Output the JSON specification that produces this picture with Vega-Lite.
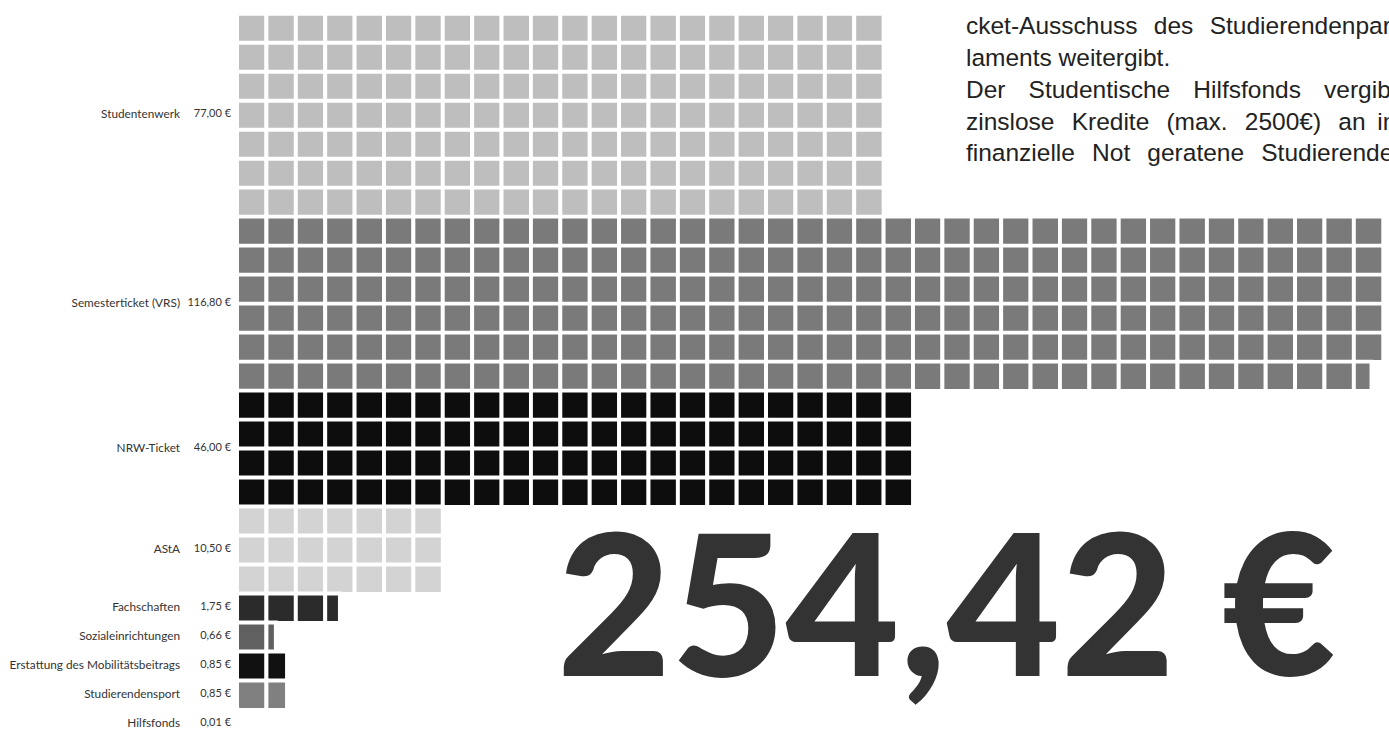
{
"$schema": "https://vega.github.io/schema/vega-lite/v6.json",
"width": 1389, "height": 733, "padding": 0, "autosize": {"type": "none"},
"config": {"view": {"stroke": null}, "axis": {"disable": true}, "locale": {"number": {"decimal": ",", "thousands": ".", "grouping": [3], "currency": ["", " €"]}}},
"data": {"values": [
{"k":"Studentenwerk","r":0,"v":0.5},{"k":"Studentenwerk","r":0,"v":0.5},{"k":"Studentenwerk","r":0,"v":0.5},{"k":"Studentenwerk","r":0,"v":0.5},{"k":"Studentenwerk","r":0,"v":0.5},{"k":"Studentenwerk","r":0,"v":0.5},{"k":"Studentenwerk","r":0,"v":0.5},{"k":"Studentenwerk","r":0,"v":0.5},{"k":"Studentenwerk","r":0,"v":0.5},{"k":"Studentenwerk","r":0,"v":0.5},{"k":"Studentenwerk","r":0,"v":0.5},
{"k":"Studentenwerk","r":0,"v":0.5},{"k":"Studentenwerk","r":0,"v":0.5},{"k":"Studentenwerk","r":0,"v":0.5},{"k":"Studentenwerk","r":0,"v":0.5},{"k":"Studentenwerk","r":0,"v":0.5},{"k":"Studentenwerk","r":0,"v":0.5},{"k":"Studentenwerk","r":0,"v":0.5},{"k":"Studentenwerk","r":0,"v":0.5},{"k":"Studentenwerk","r":0,"v":0.5},{"k":"Studentenwerk","r":0,"v":0.5},{"k":"Studentenwerk","r":0,"v":0.5},
{"k":"Studentenwerk","r":1,"v":0.5},{"k":"Studentenwerk","r":1,"v":0.5},{"k":"Studentenwerk","r":1,"v":0.5},{"k":"Studentenwerk","r":1,"v":0.5},{"k":"Studentenwerk","r":1,"v":0.5},{"k":"Studentenwerk","r":1,"v":0.5},{"k":"Studentenwerk","r":1,"v":0.5},{"k":"Studentenwerk","r":1,"v":0.5},{"k":"Studentenwerk","r":1,"v":0.5},{"k":"Studentenwerk","r":1,"v":0.5},{"k":"Studentenwerk","r":1,"v":0.5},
{"k":"Studentenwerk","r":1,"v":0.5},{"k":"Studentenwerk","r":1,"v":0.5},{"k":"Studentenwerk","r":1,"v":0.5},{"k":"Studentenwerk","r":1,"v":0.5},{"k":"Studentenwerk","r":1,"v":0.5},{"k":"Studentenwerk","r":1,"v":0.5},{"k":"Studentenwerk","r":1,"v":0.5},{"k":"Studentenwerk","r":1,"v":0.5},{"k":"Studentenwerk","r":1,"v":0.5},{"k":"Studentenwerk","r":1,"v":0.5},{"k":"Studentenwerk","r":1,"v":0.5},
{"k":"Studentenwerk","r":2,"v":0.5},{"k":"Studentenwerk","r":2,"v":0.5},{"k":"Studentenwerk","r":2,"v":0.5},{"k":"Studentenwerk","r":2,"v":0.5},{"k":"Studentenwerk","r":2,"v":0.5},{"k":"Studentenwerk","r":2,"v":0.5},{"k":"Studentenwerk","r":2,"v":0.5},{"k":"Studentenwerk","r":2,"v":0.5},{"k":"Studentenwerk","r":2,"v":0.5},{"k":"Studentenwerk","r":2,"v":0.5},{"k":"Studentenwerk","r":2,"v":0.5},
{"k":"Studentenwerk","r":2,"v":0.5},{"k":"Studentenwerk","r":2,"v":0.5},{"k":"Studentenwerk","r":2,"v":0.5},{"k":"Studentenwerk","r":2,"v":0.5},{"k":"Studentenwerk","r":2,"v":0.5},{"k":"Studentenwerk","r":2,"v":0.5},{"k":"Studentenwerk","r":2,"v":0.5},{"k":"Studentenwerk","r":2,"v":0.5},{"k":"Studentenwerk","r":2,"v":0.5},{"k":"Studentenwerk","r":2,"v":0.5},{"k":"Studentenwerk","r":2,"v":0.5},
{"k":"Studentenwerk","r":3,"v":0.5},{"k":"Studentenwerk","r":3,"v":0.5},{"k":"Studentenwerk","r":3,"v":0.5},{"k":"Studentenwerk","r":3,"v":0.5},{"k":"Studentenwerk","r":3,"v":0.5},{"k":"Studentenwerk","r":3,"v":0.5},{"k":"Studentenwerk","r":3,"v":0.5},{"k":"Studentenwerk","r":3,"v":0.5},{"k":"Studentenwerk","r":3,"v":0.5},{"k":"Studentenwerk","r":3,"v":0.5},{"k":"Studentenwerk","r":3,"v":0.5},
{"k":"Studentenwerk","r":3,"v":0.5},{"k":"Studentenwerk","r":3,"v":0.5},{"k":"Studentenwerk","r":3,"v":0.5},{"k":"Studentenwerk","r":3,"v":0.5},{"k":"Studentenwerk","r":3,"v":0.5},{"k":"Studentenwerk","r":3,"v":0.5},{"k":"Studentenwerk","r":3,"v":0.5},{"k":"Studentenwerk","r":3,"v":0.5},{"k":"Studentenwerk","r":3,"v":0.5},{"k":"Studentenwerk","r":3,"v":0.5},{"k":"Studentenwerk","r":3,"v":0.5},
{"k":"Studentenwerk","r":4,"v":0.5},{"k":"Studentenwerk","r":4,"v":0.5},{"k":"Studentenwerk","r":4,"v":0.5},{"k":"Studentenwerk","r":4,"v":0.5},{"k":"Studentenwerk","r":4,"v":0.5},{"k":"Studentenwerk","r":4,"v":0.5},{"k":"Studentenwerk","r":4,"v":0.5},{"k":"Studentenwerk","r":4,"v":0.5},{"k":"Studentenwerk","r":4,"v":0.5},{"k":"Studentenwerk","r":4,"v":0.5},{"k":"Studentenwerk","r":4,"v":0.5},
{"k":"Studentenwerk","r":4,"v":0.5},{"k":"Studentenwerk","r":4,"v":0.5},{"k":"Studentenwerk","r":4,"v":0.5},{"k":"Studentenwerk","r":4,"v":0.5},{"k":"Studentenwerk","r":4,"v":0.5},{"k":"Studentenwerk","r":4,"v":0.5},{"k":"Studentenwerk","r":4,"v":0.5},{"k":"Studentenwerk","r":4,"v":0.5},{"k":"Studentenwerk","r":4,"v":0.5},{"k":"Studentenwerk","r":4,"v":0.5},{"k":"Studentenwerk","r":4,"v":0.5},
{"k":"Studentenwerk","r":5,"v":0.5},{"k":"Studentenwerk","r":5,"v":0.5},{"k":"Studentenwerk","r":5,"v":0.5},{"k":"Studentenwerk","r":5,"v":0.5},{"k":"Studentenwerk","r":5,"v":0.5},{"k":"Studentenwerk","r":5,"v":0.5},{"k":"Studentenwerk","r":5,"v":0.5},{"k":"Studentenwerk","r":5,"v":0.5},{"k":"Studentenwerk","r":5,"v":0.5},{"k":"Studentenwerk","r":5,"v":0.5},{"k":"Studentenwerk","r":5,"v":0.5},
{"k":"Studentenwerk","r":5,"v":0.5},{"k":"Studentenwerk","r":5,"v":0.5},{"k":"Studentenwerk","r":5,"v":0.5},{"k":"Studentenwerk","r":5,"v":0.5},{"k":"Studentenwerk","r":5,"v":0.5},{"k":"Studentenwerk","r":5,"v":0.5},{"k":"Studentenwerk","r":5,"v":0.5},{"k":"Studentenwerk","r":5,"v":0.5},{"k":"Studentenwerk","r":5,"v":0.5},{"k":"Studentenwerk","r":5,"v":0.5},{"k":"Studentenwerk","r":5,"v":0.5},
{"k":"Studentenwerk","r":6,"v":0.5},{"k":"Studentenwerk","r":6,"v":0.5},{"k":"Studentenwerk","r":6,"v":0.5},{"k":"Studentenwerk","r":6,"v":0.5},{"k":"Studentenwerk","r":6,"v":0.5},{"k":"Studentenwerk","r":6,"v":0.5},{"k":"Studentenwerk","r":6,"v":0.5},{"k":"Studentenwerk","r":6,"v":0.5},{"k":"Studentenwerk","r":6,"v":0.5},{"k":"Studentenwerk","r":6,"v":0.5},{"k":"Studentenwerk","r":6,"v":0.5},
{"k":"Studentenwerk","r":6,"v":0.5},{"k":"Studentenwerk","r":6,"v":0.5},{"k":"Studentenwerk","r":6,"v":0.5},{"k":"Studentenwerk","r":6,"v":0.5},{"k":"Studentenwerk","r":6,"v":0.5},{"k":"Studentenwerk","r":6,"v":0.5},{"k":"Studentenwerk","r":6,"v":0.5},{"k":"Studentenwerk","r":6,"v":0.5},{"k":"Studentenwerk","r":6,"v":0.5},{"k":"Studentenwerk","r":6,"v":0.5},{"k":"Studentenwerk","r":6,"v":0.5},
{"k":"Semesterticket (VRS)","r":7,"v":0.5},{"k":"Semesterticket (VRS)","r":7,"v":0.5},{"k":"Semesterticket (VRS)","r":7,"v":0.5},{"k":"Semesterticket (VRS)","r":7,"v":0.5},{"k":"Semesterticket (VRS)","r":7,"v":0.5},{"k":"Semesterticket (VRS)","r":7,"v":0.5},{"k":"Semesterticket (VRS)","r":7,"v":0.5},{"k":"Semesterticket (VRS)","r":7,"v":0.5},{"k":"Semesterticket (VRS)","r":7,"v":0.5},{"k":"Semesterticket (VRS)","r":7,"v":0.5},{"k":"Semesterticket (VRS)","r":7,"v":0.5},{"k":"Semesterticket (VRS)","r":7,"v":0.5},{"k":"Semesterticket (VRS)","r":7,"v":0.5},
{"k":"Semesterticket (VRS)","r":7,"v":0.5},{"k":"Semesterticket (VRS)","r":7,"v":0.5},{"k":"Semesterticket (VRS)","r":7,"v":0.5},{"k":"Semesterticket (VRS)","r":7,"v":0.5},{"k":"Semesterticket (VRS)","r":7,"v":0.5},{"k":"Semesterticket (VRS)","r":7,"v":0.5},{"k":"Semesterticket (VRS)","r":7,"v":0.5},{"k":"Semesterticket (VRS)","r":7,"v":0.5},{"k":"Semesterticket (VRS)","r":7,"v":0.5},{"k":"Semesterticket (VRS)","r":7,"v":0.5},{"k":"Semesterticket (VRS)","r":7,"v":0.5},{"k":"Semesterticket (VRS)","r":7,"v":0.5},{"k":"Semesterticket (VRS)","r":7,"v":0.5},
{"k":"Semesterticket (VRS)","r":7,"v":0.5},{"k":"Semesterticket (VRS)","r":7,"v":0.5},{"k":"Semesterticket (VRS)","r":7,"v":0.5},{"k":"Semesterticket (VRS)","r":7,"v":0.5},{"k":"Semesterticket (VRS)","r":7,"v":0.5},{"k":"Semesterticket (VRS)","r":7,"v":0.5},{"k":"Semesterticket (VRS)","r":7,"v":0.5},{"k":"Semesterticket (VRS)","r":7,"v":0.5},{"k":"Semesterticket (VRS)","r":7,"v":0.5},{"k":"Semesterticket (VRS)","r":7,"v":0.5},{"k":"Semesterticket (VRS)","r":7,"v":0.5},{"k":"Semesterticket (VRS)","r":7,"v":0.5},{"k":"Semesterticket (VRS)","r":7,"v":0.5},
{"k":"Semesterticket (VRS)","r":8,"v":0.5},{"k":"Semesterticket (VRS)","r":8,"v":0.5},{"k":"Semesterticket (VRS)","r":8,"v":0.5},{"k":"Semesterticket (VRS)","r":8,"v":0.5},{"k":"Semesterticket (VRS)","r":8,"v":0.5},{"k":"Semesterticket (VRS)","r":8,"v":0.5},{"k":"Semesterticket (VRS)","r":8,"v":0.5},{"k":"Semesterticket (VRS)","r":8,"v":0.5},{"k":"Semesterticket (VRS)","r":8,"v":0.5},{"k":"Semesterticket (VRS)","r":8,"v":0.5},{"k":"Semesterticket (VRS)","r":8,"v":0.5},{"k":"Semesterticket (VRS)","r":8,"v":0.5},{"k":"Semesterticket (VRS)","r":8,"v":0.5},
{"k":"Semesterticket (VRS)","r":8,"v":0.5},{"k":"Semesterticket (VRS)","r":8,"v":0.5},{"k":"Semesterticket (VRS)","r":8,"v":0.5},{"k":"Semesterticket (VRS)","r":8,"v":0.5},{"k":"Semesterticket (VRS)","r":8,"v":0.5},{"k":"Semesterticket (VRS)","r":8,"v":0.5},{"k":"Semesterticket (VRS)","r":8,"v":0.5},{"k":"Semesterticket (VRS)","r":8,"v":0.5},{"k":"Semesterticket (VRS)","r":8,"v":0.5},{"k":"Semesterticket (VRS)","r":8,"v":0.5},{"k":"Semesterticket (VRS)","r":8,"v":0.5},{"k":"Semesterticket (VRS)","r":8,"v":0.5},{"k":"Semesterticket (VRS)","r":8,"v":0.5},
{"k":"Semesterticket (VRS)","r":8,"v":0.5},{"k":"Semesterticket (VRS)","r":8,"v":0.5},{"k":"Semesterticket (VRS)","r":8,"v":0.5},{"k":"Semesterticket (VRS)","r":8,"v":0.5},{"k":"Semesterticket (VRS)","r":8,"v":0.5},{"k":"Semesterticket (VRS)","r":8,"v":0.5},{"k":"Semesterticket (VRS)","r":8,"v":0.5},{"k":"Semesterticket (VRS)","r":8,"v":0.5},{"k":"Semesterticket (VRS)","r":8,"v":0.5},{"k":"Semesterticket (VRS)","r":8,"v":0.5},{"k":"Semesterticket (VRS)","r":8,"v":0.5},{"k":"Semesterticket (VRS)","r":8,"v":0.5},{"k":"Semesterticket (VRS)","r":8,"v":0.5},
{"k":"Semesterticket (VRS)","r":9,"v":0.5},{"k":"Semesterticket (VRS)","r":9,"v":0.5},{"k":"Semesterticket (VRS)","r":9,"v":0.5},{"k":"Semesterticket (VRS)","r":9,"v":0.5},{"k":"Semesterticket (VRS)","r":9,"v":0.5},{"k":"Semesterticket (VRS)","r":9,"v":0.5},{"k":"Semesterticket (VRS)","r":9,"v":0.5},{"k":"Semesterticket (VRS)","r":9,"v":0.5},{"k":"Semesterticket (VRS)","r":9,"v":0.5},{"k":"Semesterticket (VRS)","r":9,"v":0.5},{"k":"Semesterticket (VRS)","r":9,"v":0.5},{"k":"Semesterticket (VRS)","r":9,"v":0.5},{"k":"Semesterticket (VRS)","r":9,"v":0.5},
{"k":"Semesterticket (VRS)","r":9,"v":0.5},{"k":"Semesterticket (VRS)","r":9,"v":0.5},{"k":"Semesterticket (VRS)","r":9,"v":0.5},{"k":"Semesterticket (VRS)","r":9,"v":0.5},{"k":"Semesterticket (VRS)","r":9,"v":0.5},{"k":"Semesterticket (VRS)","r":9,"v":0.5},{"k":"Semesterticket (VRS)","r":9,"v":0.5},{"k":"Semesterticket (VRS)","r":9,"v":0.5},{"k":"Semesterticket (VRS)","r":9,"v":0.5},{"k":"Semesterticket (VRS)","r":9,"v":0.5},{"k":"Semesterticket (VRS)","r":9,"v":0.5},{"k":"Semesterticket (VRS)","r":9,"v":0.5},{"k":"Semesterticket (VRS)","r":9,"v":0.5},
{"k":"Semesterticket (VRS)","r":9,"v":0.5},{"k":"Semesterticket (VRS)","r":9,"v":0.5},{"k":"Semesterticket (VRS)","r":9,"v":0.5},{"k":"Semesterticket (VRS)","r":9,"v":0.5},{"k":"Semesterticket (VRS)","r":9,"v":0.5},{"k":"Semesterticket (VRS)","r":9,"v":0.5},{"k":"Semesterticket (VRS)","r":9,"v":0.5},{"k":"Semesterticket (VRS)","r":9,"v":0.5},{"k":"Semesterticket (VRS)","r":9,"v":0.5},{"k":"Semesterticket (VRS)","r":9,"v":0.5},{"k":"Semesterticket (VRS)","r":9,"v":0.5},{"k":"Semesterticket (VRS)","r":9,"v":0.5},{"k":"Semesterticket (VRS)","r":9,"v":0.5},
{"k":"Semesterticket (VRS)","r":10,"v":0.5},{"k":"Semesterticket (VRS)","r":10,"v":0.5},{"k":"Semesterticket (VRS)","r":10,"v":0.5},{"k":"Semesterticket (VRS)","r":10,"v":0.5},{"k":"Semesterticket (VRS)","r":10,"v":0.5},{"k":"Semesterticket (VRS)","r":10,"v":0.5},{"k":"Semesterticket (VRS)","r":10,"v":0.5},{"k":"Semesterticket (VRS)","r":10,"v":0.5},{"k":"Semesterticket (VRS)","r":10,"v":0.5},{"k":"Semesterticket (VRS)","r":10,"v":0.5},{"k":"Semesterticket (VRS)","r":10,"v":0.5},{"k":"Semesterticket (VRS)","r":10,"v":0.5},{"k":"Semesterticket (VRS)","r":10,"v":0.5},
{"k":"Semesterticket (VRS)","r":10,"v":0.5},{"k":"Semesterticket (VRS)","r":10,"v":0.5},{"k":"Semesterticket (VRS)","r":10,"v":0.5},{"k":"Semesterticket (VRS)","r":10,"v":0.5},{"k":"Semesterticket (VRS)","r":10,"v":0.5},{"k":"Semesterticket (VRS)","r":10,"v":0.5},{"k":"Semesterticket (VRS)","r":10,"v":0.5},{"k":"Semesterticket (VRS)","r":10,"v":0.5},{"k":"Semesterticket (VRS)","r":10,"v":0.5},{"k":"Semesterticket (VRS)","r":10,"v":0.5},{"k":"Semesterticket (VRS)","r":10,"v":0.5},{"k":"Semesterticket (VRS)","r":10,"v":0.5},{"k":"Semesterticket (VRS)","r":10,"v":0.5},
{"k":"Semesterticket (VRS)","r":10,"v":0.5},{"k":"Semesterticket (VRS)","r":10,"v":0.5},{"k":"Semesterticket (VRS)","r":10,"v":0.5},{"k":"Semesterticket (VRS)","r":10,"v":0.5},{"k":"Semesterticket (VRS)","r":10,"v":0.5},{"k":"Semesterticket (VRS)","r":10,"v":0.5},{"k":"Semesterticket (VRS)","r":10,"v":0.5},{"k":"Semesterticket (VRS)","r":10,"v":0.5},{"k":"Semesterticket (VRS)","r":10,"v":0.5},{"k":"Semesterticket (VRS)","r":10,"v":0.5},{"k":"Semesterticket (VRS)","r":10,"v":0.5},{"k":"Semesterticket (VRS)","r":10,"v":0.5},{"k":"Semesterticket (VRS)","r":10,"v":0.5},
{"k":"Semesterticket (VRS)","r":11,"v":0.5},{"k":"Semesterticket (VRS)","r":11,"v":0.5},{"k":"Semesterticket (VRS)","r":11,"v":0.5},{"k":"Semesterticket (VRS)","r":11,"v":0.5},{"k":"Semesterticket (VRS)","r":11,"v":0.5},{"k":"Semesterticket (VRS)","r":11,"v":0.5},{"k":"Semesterticket (VRS)","r":11,"v":0.5},{"k":"Semesterticket (VRS)","r":11,"v":0.5},{"k":"Semesterticket (VRS)","r":11,"v":0.5},{"k":"Semesterticket (VRS)","r":11,"v":0.5},{"k":"Semesterticket (VRS)","r":11,"v":0.5},{"k":"Semesterticket (VRS)","r":11,"v":0.5},{"k":"Semesterticket (VRS)","r":11,"v":0.5},
{"k":"Semesterticket (VRS)","r":11,"v":0.5},{"k":"Semesterticket (VRS)","r":11,"v":0.5},{"k":"Semesterticket (VRS)","r":11,"v":0.5},{"k":"Semesterticket (VRS)","r":11,"v":0.5},{"k":"Semesterticket (VRS)","r":11,"v":0.5},{"k":"Semesterticket (VRS)","r":11,"v":0.5},{"k":"Semesterticket (VRS)","r":11,"v":0.5},{"k":"Semesterticket (VRS)","r":11,"v":0.5},{"k":"Semesterticket (VRS)","r":11,"v":0.5},{"k":"Semesterticket (VRS)","r":11,"v":0.5},{"k":"Semesterticket (VRS)","r":11,"v":0.5},{"k":"Semesterticket (VRS)","r":11,"v":0.5},{"k":"Semesterticket (VRS)","r":11,"v":0.5},
{"k":"Semesterticket (VRS)","r":11,"v":0.5},{"k":"Semesterticket (VRS)","r":11,"v":0.5},{"k":"Semesterticket (VRS)","r":11,"v":0.5},{"k":"Semesterticket (VRS)","r":11,"v":0.5},{"k":"Semesterticket (VRS)","r":11,"v":0.5},{"k":"Semesterticket (VRS)","r":11,"v":0.5},{"k":"Semesterticket (VRS)","r":11,"v":0.5},{"k":"Semesterticket (VRS)","r":11,"v":0.5},{"k":"Semesterticket (VRS)","r":11,"v":0.5},{"k":"Semesterticket (VRS)","r":11,"v":0.5},{"k":"Semesterticket (VRS)","r":11,"v":0.5},{"k":"Semesterticket (VRS)","r":11,"v":0.5},{"k":"Semesterticket (VRS)","r":11,"v":0.5},
{"k":"Semesterticket (VRS)","r":12,"v":0.5},{"k":"Semesterticket (VRS)","r":12,"v":0.5},{"k":"Semesterticket (VRS)","r":12,"v":0.5},{"k":"Semesterticket (VRS)","r":12,"v":0.5},{"k":"Semesterticket (VRS)","r":12,"v":0.5},{"k":"Semesterticket (VRS)","r":12,"v":0.5},{"k":"Semesterticket (VRS)","r":12,"v":0.5},{"k":"Semesterticket (VRS)","r":12,"v":0.5},{"k":"Semesterticket (VRS)","r":12,"v":0.5},{"k":"Semesterticket (VRS)","r":12,"v":0.5},{"k":"Semesterticket (VRS)","r":12,"v":0.5},{"k":"Semesterticket (VRS)","r":12,"v":0.5},{"k":"Semesterticket (VRS)","r":12,"v":0.5},
{"k":"Semesterticket (VRS)","r":12,"v":0.5},{"k":"Semesterticket (VRS)","r":12,"v":0.5},{"k":"Semesterticket (VRS)","r":12,"v":0.5},{"k":"Semesterticket (VRS)","r":12,"v":0.5},{"k":"Semesterticket (VRS)","r":12,"v":0.5},{"k":"Semesterticket (VRS)","r":12,"v":0.5},{"k":"Semesterticket (VRS)","r":12,"v":0.5},{"k":"Semesterticket (VRS)","r":12,"v":0.5},{"k":"Semesterticket (VRS)","r":12,"v":0.5},{"k":"Semesterticket (VRS)","r":12,"v":0.5},{"k":"Semesterticket (VRS)","r":12,"v":0.5},{"k":"Semesterticket (VRS)","r":12,"v":0.5},{"k":"Semesterticket (VRS)","r":12,"v":0.5},
{"k":"Semesterticket (VRS)","r":12,"v":0.5},{"k":"Semesterticket (VRS)","r":12,"v":0.5},{"k":"Semesterticket (VRS)","r":12,"v":0.5},{"k":"Semesterticket (VRS)","r":12,"v":0.5},{"k":"Semesterticket (VRS)","r":12,"v":0.5},{"k":"Semesterticket (VRS)","r":12,"v":0.5},{"k":"Semesterticket (VRS)","r":12,"v":0.5},{"k":"Semesterticket (VRS)","r":12,"v":0.5},{"k":"Semesterticket (VRS)","r":12,"v":0.5},{"k":"Semesterticket (VRS)","r":12,"v":0.5},{"k":"Semesterticket (VRS)","r":12,"v":0.5},{"k":"Semesterticket (VRS)","r":12,"v":0.5},{"k":"Semesterticket (VRS)","r":12,"v":0.3},
{"k":"NRW-Ticket","r":13,"v":0.5},{"k":"NRW-Ticket","r":13,"v":0.5},{"k":"NRW-Ticket","r":13,"v":0.5},{"k":"NRW-Ticket","r":13,"v":0.5},{"k":"NRW-Ticket","r":13,"v":0.5},{"k":"NRW-Ticket","r":13,"v":0.5},{"k":"NRW-Ticket","r":13,"v":0.5},{"k":"NRW-Ticket","r":13,"v":0.5},{"k":"NRW-Ticket","r":13,"v":0.5},{"k":"NRW-Ticket","r":13,"v":0.5},{"k":"NRW-Ticket","r":13,"v":0.5},
{"k":"NRW-Ticket","r":13,"v":0.5},{"k":"NRW-Ticket","r":13,"v":0.5},{"k":"NRW-Ticket","r":13,"v":0.5},{"k":"NRW-Ticket","r":13,"v":0.5},{"k":"NRW-Ticket","r":13,"v":0.5},{"k":"NRW-Ticket","r":13,"v":0.5},{"k":"NRW-Ticket","r":13,"v":0.5},{"k":"NRW-Ticket","r":13,"v":0.5},{"k":"NRW-Ticket","r":13,"v":0.5},{"k":"NRW-Ticket","r":13,"v":0.5},{"k":"NRW-Ticket","r":13,"v":0.5},{"k":"NRW-Ticket","r":13,"v":0.5},
{"k":"NRW-Ticket","r":14,"v":0.5},{"k":"NRW-Ticket","r":14,"v":0.5},{"k":"NRW-Ticket","r":14,"v":0.5},{"k":"NRW-Ticket","r":14,"v":0.5},{"k":"NRW-Ticket","r":14,"v":0.5},{"k":"NRW-Ticket","r":14,"v":0.5},{"k":"NRW-Ticket","r":14,"v":0.5},{"k":"NRW-Ticket","r":14,"v":0.5},{"k":"NRW-Ticket","r":14,"v":0.5},{"k":"NRW-Ticket","r":14,"v":0.5},{"k":"NRW-Ticket","r":14,"v":0.5},
{"k":"NRW-Ticket","r":14,"v":0.5},{"k":"NRW-Ticket","r":14,"v":0.5},{"k":"NRW-Ticket","r":14,"v":0.5},{"k":"NRW-Ticket","r":14,"v":0.5},{"k":"NRW-Ticket","r":14,"v":0.5},{"k":"NRW-Ticket","r":14,"v":0.5},{"k":"NRW-Ticket","r":14,"v":0.5},{"k":"NRW-Ticket","r":14,"v":0.5},{"k":"NRW-Ticket","r":14,"v":0.5},{"k":"NRW-Ticket","r":14,"v":0.5},{"k":"NRW-Ticket","r":14,"v":0.5},{"k":"NRW-Ticket","r":14,"v":0.5},
{"k":"NRW-Ticket","r":15,"v":0.5},{"k":"NRW-Ticket","r":15,"v":0.5},{"k":"NRW-Ticket","r":15,"v":0.5},{"k":"NRW-Ticket","r":15,"v":0.5},{"k":"NRW-Ticket","r":15,"v":0.5},{"k":"NRW-Ticket","r":15,"v":0.5},{"k":"NRW-Ticket","r":15,"v":0.5},{"k":"NRW-Ticket","r":15,"v":0.5},{"k":"NRW-Ticket","r":15,"v":0.5},{"k":"NRW-Ticket","r":15,"v":0.5},{"k":"NRW-Ticket","r":15,"v":0.5},
{"k":"NRW-Ticket","r":15,"v":0.5},{"k":"NRW-Ticket","r":15,"v":0.5},{"k":"NRW-Ticket","r":15,"v":0.5},{"k":"NRW-Ticket","r":15,"v":0.5},{"k":"NRW-Ticket","r":15,"v":0.5},{"k":"NRW-Ticket","r":15,"v":0.5},{"k":"NRW-Ticket","r":15,"v":0.5},{"k":"NRW-Ticket","r":15,"v":0.5},{"k":"NRW-Ticket","r":15,"v":0.5},{"k":"NRW-Ticket","r":15,"v":0.5},{"k":"NRW-Ticket","r":15,"v":0.5},{"k":"NRW-Ticket","r":15,"v":0.5},
{"k":"NRW-Ticket","r":16,"v":0.5},{"k":"NRW-Ticket","r":16,"v":0.5},{"k":"NRW-Ticket","r":16,"v":0.5},{"k":"NRW-Ticket","r":16,"v":0.5},{"k":"NRW-Ticket","r":16,"v":0.5},{"k":"NRW-Ticket","r":16,"v":0.5},{"k":"NRW-Ticket","r":16,"v":0.5},{"k":"NRW-Ticket","r":16,"v":0.5},{"k":"NRW-Ticket","r":16,"v":0.5},{"k":"NRW-Ticket","r":16,"v":0.5},{"k":"NRW-Ticket","r":16,"v":0.5},
{"k":"NRW-Ticket","r":16,"v":0.5},{"k":"NRW-Ticket","r":16,"v":0.5},{"k":"NRW-Ticket","r":16,"v":0.5},{"k":"NRW-Ticket","r":16,"v":0.5},{"k":"NRW-Ticket","r":16,"v":0.5},{"k":"NRW-Ticket","r":16,"v":0.5},{"k":"NRW-Ticket","r":16,"v":0.5},{"k":"NRW-Ticket","r":16,"v":0.5},{"k":"NRW-Ticket","r":16,"v":0.5},{"k":"NRW-Ticket","r":16,"v":0.5},{"k":"NRW-Ticket","r":16,"v":0.5},{"k":"NRW-Ticket","r":16,"v":0.5},
{"k":"AStA","r":17,"v":0.5},{"k":"AStA","r":17,"v":0.5},{"k":"AStA","r":17,"v":0.5},{"k":"AStA","r":17,"v":0.5},{"k":"AStA","r":17,"v":0.5},{"k":"AStA","r":17,"v":0.5},{"k":"AStA","r":17,"v":0.5},
{"k":"AStA","r":18,"v":0.5},{"k":"AStA","r":18,"v":0.5},{"k":"AStA","r":18,"v":0.5},{"k":"AStA","r":18,"v":0.5},{"k":"AStA","r":18,"v":0.5},{"k":"AStA","r":18,"v":0.5},{"k":"AStA","r":18,"v":0.5},
{"k":"AStA","r":19,"v":0.5},{"k":"AStA","r":19,"v":0.5},{"k":"AStA","r":19,"v":0.5},{"k":"AStA","r":19,"v":0.5},{"k":"AStA","r":19,"v":0.5},{"k":"AStA","r":19,"v":0.5},{"k":"AStA","r":19,"v":0.5},
{"k":"Fachschaften","r":20,"v":0.5},{"k":"Fachschaften","r":20,"v":0.5},{"k":"Fachschaften","r":20,"v":0.5},{"k":"Fachschaften","r":20,"v":0.25},
{"k":"Sozialeinrichtungen","r":21,"v":0.5},{"k":"Sozialeinrichtungen","r":21,"v":0.16},
{"k":"Erstattung des Mobilitätsbeitrags","r":22,"v":0.5},{"k":"Erstattung des Mobilitätsbeitrags","r":22,"v":0.35},
{"k":"Studierendensport","r":23,"v":0.5},{"k":"Studierendensport","r":23,"v":0.35},
{"k":"Hilfsfonds","r":24,"v":0.01}
]},
"layer": [
{"mark": {"type": "bar", "orient": "horizontal", "size": 29.39, "stroke": "white", "strokeWidth": 3.9},
 "encoding": {
  "x": {"field": "v", "type": "quantitative", "stack": "zero", "axis": null, "scale": {"domain": [-4.0328, 19.598], "nice": false, "zero": false}},
  "y": {"field": "r", "type": "quantitative", "axis": null, "scale": {"domain": [-0.8081, 24.1323], "nice": false, "zero": false, "reverse": true}},
  "color": {"field": "k", "type": "nominal", "legend": null, "scale": {"domain": ["Studentenwerk", "Semesterticket (VRS)", "NRW-Ticket", "AStA", "Fachschaften", "Sozialeinrichtungen", "Erstattung des Mobilitätsbeitrags", "Studierendensport", "Hilfsfonds"], "range": ["#bebebe", "#7a7a7a", "#0d0d0d", "#d3d3d3", "#2b2b2b", "#606060", "#111111", "#808080", "#b0b0b0"]}}
 }},
{"mark": {"type": "text", "align": "right", "baseline": "middle", "dx": -57, "dy": -1, "font": "Lato", "fontSize": 11.8, "fill": "#333333"},
 "encoding": {
  "x": {"datum": 0, "type": "quantitative"},
  "y": {"field": "r", "aggregate": "mean", "type": "quantitative"},
  "text": {"field": "k", "type": "nominal"}
 }},
{"mark": {"type": "text", "align": "right", "baseline": "middle", "dx": -6, "dy": -1, "font": "Lato", "fontSize": 11, "fill": "#333333"},
 "encoding": {
  "x": {"datum": 0, "type": "quantitative"},
  "y": {"field": "r", "aggregate": "mean", "type": "quantitative"},
  "detail": {"field": "k", "type": "nominal"},
  "text": {"field": "v", "aggregate": "sum", "type": "quantitative", "format": "$.2f"}
 }},
{"mark": {"type": "text", "align": "center", "baseline": "alphabetic", "font": "Lato", "fontWeight": 900, "fontSize": 197, "fill": "#333333"},
 "encoding": {
  "x": {"datum": 12.07, "type": "quantitative"},
  "y": {"datum": 22.329, "type": "quantitative"},
  "text": {"field": "v", "aggregate": "sum", "type": "quantitative", "format": "$.2f"}
 }},
{"data": {"values": [{"t": ["cket-Ausschuss\u2002\u2006des\u2002\u2006Studierendenpar-", "laments weitergibt."]}]},
 "mark": {"type": "text", "align": "left", "baseline": "alphabetic", "font": "Liberation Sans", "fontSize": 24.5, "lineHeight": 31.7, "fill": "#222222"},
 "encoding": {
  "x": {"datum": 12.401, "type": "quantitative"},
  "y": {"datum": 0.1888, "type": "quantitative"},
  "text": {"field": "t"}
 }},
{"data": {"values": [{"t": ["Der\u2002\u00a0\u2006Studentische\u2002\u00a0\u2006Hilfsfonds\u2002\u00a0\u2006vergibt", "zinslose\u2002\u2009Kredite\u2002\u2009(max.\u2002\u20092500€)\u2002\u2009an\u00a0\u2009in", "finanzielle\u2002\u2009Not\u2002\u2009geratene\u2002\u2009Studierende."]}]},
 "mark": {"type": "text", "align": "left", "baseline": "alphabetic", "font": "Liberation Sans", "fontSize": 24.5, "lineHeight": 31.7, "fill": "#222222"},
 "encoding": {
  "x": {"datum": 12.401, "type": "quantitative"},
  "y": {"datum": 2.4005, "type": "quantitative"},
  "text": {"field": "t"}
 }}
]
}
